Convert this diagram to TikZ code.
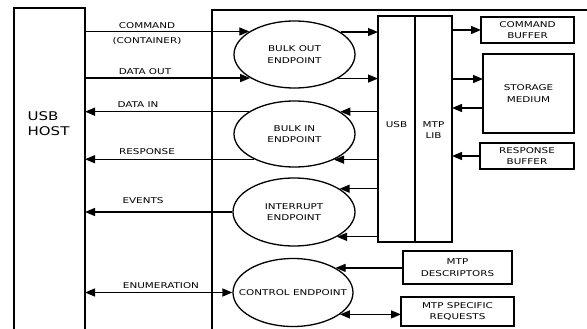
\documentclass[tikz,border=0pt]{standalone}
\usepackage{fontspec}
\usetikzlibrary{shapes.geometric,arrows.meta}
\newfontfamily\lblfont[FakeStretch=1.3]{DejaVu Sans}
\newfontfamily\hostfont[FakeStretch=1.25]{DejaVu Sans}

\begin{document}
\begin{tikzpicture}[x=1pt,y=-1pt,
  line width=1.3pt,
  lbl/.style={font=\lblfont\fontsize{8}{11.5}\selectfont, align=center, inner sep=0pt},
  endpt/.style={ellipse, draw, inner sep=0pt, minimum width=121pt, minimum height=67pt},
  blk/.style={draw, lbl, anchor=north west, outer sep=0pt},
  tip/.tip={Triangle[length=10pt,width=8pt]},
  arr/.style={-tip},
  darr/.style={tip-tip},
]
\useasboundingbox (0,0) rectangle (587,329);
\clip (0,0) rectangle (587,329);

% host and device frames (both run on past the lower edge)
\node[blk, minimum width=71pt, minimum height=360pt] (host) at (14,8) {};
\node[font=\hostfont\fontsize{12}{15}\selectfont, align=left, anchor=west, inner sep=0pt] (hostlbl) at (27,123.5) {USB\\HOST};
\node[blk, minimum width=420pt, minimum height=360pt] (dev) at (212,10) {};

% endpoints (shapes, then their texts)
\node[endpt] (bo) at (294.5,54.5) {};
\node[endpt, minimum height=66pt] (bi) at (294.5,134) {};
\node[endpt, minimum width=122pt, minimum height=68pt] (intr) at (294,212) {};
\node[endpt, minimum width=120pt, minimum height=68pt] (ctrl) at (293,292.5) {};
\node[lbl] (bolbl) at (bo.center) {BULK OUT\\ENDPOINT};
\node[lbl] (bilbl) at (bi.center) {BULK IN\\ENDPOINT};
\node[lbl] (intrlbl) at (intr.center) {INTERRUPT\\ENDPOINT};
\node[lbl] (ctrllbl) at (ctrl.center) {CONTROL ENDPOINT};

% USB / MTP library stack
\node[blk, minimum width=37pt, minimum height=226pt] (usb) at (378,16) {};
\node[blk, minimum width=37pt, minimum height=226pt] (mtp) at (415,16) {};
\node[lbl] (usblbl) at (396.5,124.5) {USB};
\node[lbl] (mtplbl) at (433.5,130) {MTP\\LIB};

% buffers and storage
\node[blk, minimum width=93pt, minimum height=26pt] (cmd) at (481,17) {COMMAND\\BUFFER};
\node[blk, minimum width=91pt, minimum height=79pt] (stor) at (483,54) {STORAGE\\MEDIUM};
\node[blk, minimum width=94pt, minimum height=26pt] (resp) at (480,143) {RESPONSE\\BUFFER};
\node[blk, minimum width=109pt, minimum height=33pt] (desc) at (403,251) {MTP\\DESCRIPTORS};
\node[blk, minimum width=113pt, minimum height=29pt] (spec) at (401,297) {MTP SPECIFIC\\REQUESTS};

% host <-> endpoints
\draw[arr] (host.east |- bo.153.3) -- (bo.153.3);
\draw[arr] (host.east |- bo.208.6) -- (bo.208.6);
\draw[arr] (bi.154) -- (host.east |- bi.154);
\draw[arr] (bi.212.3) -- (host.east |- bi.212.3);
\draw[arr] (intr.180) -- (host.east |- intr.180);
\draw[darr] (host.east |- ctrl.180) -- (ctrl.180);

% endpoints <-> USB stack
\draw[arr] (bo.26.7) -- (usb.west |- bo.26.7);
\draw[arr] (bo.331.4) -- (usb.west |- bo.331.4);
\draw[arr] (usb.west |- bi.26) -- (bi.26);
\draw[arr] (usb.west |- bi.327.7) -- (bi.327.7);
\draw[arr] (usb.west |- intr.27.1) -- (intr.27.1);
\draw[arr] (usb.west |- intr.330.9) -- (intr.330.9);

% control endpoint extras
\draw[arr] (desc.west |- ctrl.30.5) -- (ctrl.30.5);
\draw[darr] (ctrl.335.2) -- (spec.west |- ctrl.335.2);

% MTP library <-> buffers
\draw[arr] (mtp.east |- cmd.west) -- (cmd.west);
\draw[arr] (mtp.east |- 0,79) -- (stor.west |- 0,79);
\draw[arr] (stor.west |- 0,108) -- (mtp.east |- 0,108);
\draw[arr] (resp.west) -- (mtp.east |- resp.west);

% connector labels
\node[lbl] (lcmd) at (147,26) {COMMAND};
\node[lbl] (lcont) at (147,41) {(CONTAINER)};
\node[lbl] (ldout) at (145,72) {DATA OUT};
\node[lbl] (ldin) at (138,105) {DATA IN};
\node[lbl] (lresp) at (147,152) {RESPONSE};
\node[lbl] (levt) at (143,201) {EVENTS};
\node[lbl] (lenum) at (161,286) {ENUMERATION};
\end{tikzpicture}
\end{document}
